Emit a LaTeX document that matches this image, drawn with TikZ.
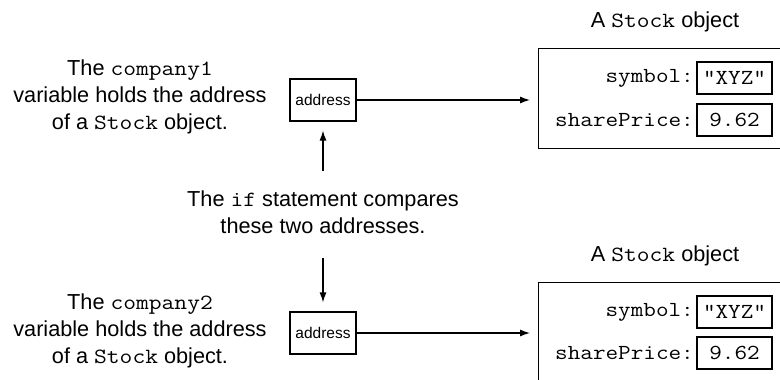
\documentclass[tikz,border=0pt]{standalone}
\usepackage{fontspec}
\setmainfont{Liberation Sans}
\setmonofont[FakeStretch=1.143]{Latin Modern Mono}
\usetikzlibrary{arrows.meta}
\begin{document}
\begin{tikzpicture}[x=1pt,y=-1pt,
  txt/.style={align=center,font=\fontsize{21.7}{27}\selectfont,inner sep=0},
  addrbox/.style={draw,line width=1.2pt,minimum width=66,minimum height=42,inner sep=0,font=\fontsize{15.5}{18}\selectfont},
  objbox/.style={draw,line width=1.2pt,minimum width=260,minimum height=100,anchor=north west,inner sep=0},
  valbox/.style={draw,line width=1.2pt,minimum width=75,minimum height=32,inner sep=0,font=\ttfamily\fontsize{21.4}{24}\selectfont},
  fieldlbl/.style={anchor=east,inner sep=0,font=\ttfamily\fontsize{21.4}{24}\selectfont},
  arr/.style={line width=1.2pt,-{Latex[length=10pt,width=7pt]}}]
\clip (0,0) rectangle (780,380);
\useasboundingbox (0,0) rectangle (780,380);
% left texts
\node[txt] (l1) at (140,97) {The \texttt{company1}\\variable holds the address\\of a \texttt{Stock} object.};
\node[txt] (l2) at (140,331) {The \texttt{company2}\\variable holds the address\\of a \texttt{Stock} object.};
% middle text
\node[txt] (cmp) at (323,212) {The \texttt{if} statement compares\\these two addresses.};
% address boxes
\node[addrbox] (a1) at (323,100) {address};
\node[addrbox] (a2) at (323,333) {address};
% object labels
\node[txt] (ol1) at (665,22) {A \texttt{Stock} object};
\node[txt] (ol2) at (665,256) {A \texttt{Stock} object};
% object boxes
\node[objbox] (o1) at (538,48) {};
\node[objbox] (o2) at (538,282) {};
% fields
\node[fieldlbl] (s1) at (694,78) {symbol:};
\node[valbox] (v1) at (734.5,78) {"XYZ"};
\node[fieldlbl] (p1) at (694,120) {sharePrice:};
\node[valbox] (w1) at (734.5,120) {9.62};
\node[fieldlbl] (s2) at (694,312) {symbol:};
\node[valbox] (v2) at (734.5,312) {"XYZ"};
\node[fieldlbl] (p2) at (694,353) {sharePrice:};
\node[valbox] (w2) at (734.5,353) {9.62};
% connectors
\draw[arr,shorten >=8pt] (a1.east) -- (a1.east -| o1.west);
\draw[arr,shorten >=8pt] (a2.east) -- (a2.east -| o2.west);
\coordinate (t1) at (323,171);
\coordinate (t2) at (323,258);
\draw[arr,shorten >=9pt] (t1) -- (a1.south);
\draw[arr,shorten >=9pt] (t2) -- (a2.north);
\end{tikzpicture}
\end{document}
